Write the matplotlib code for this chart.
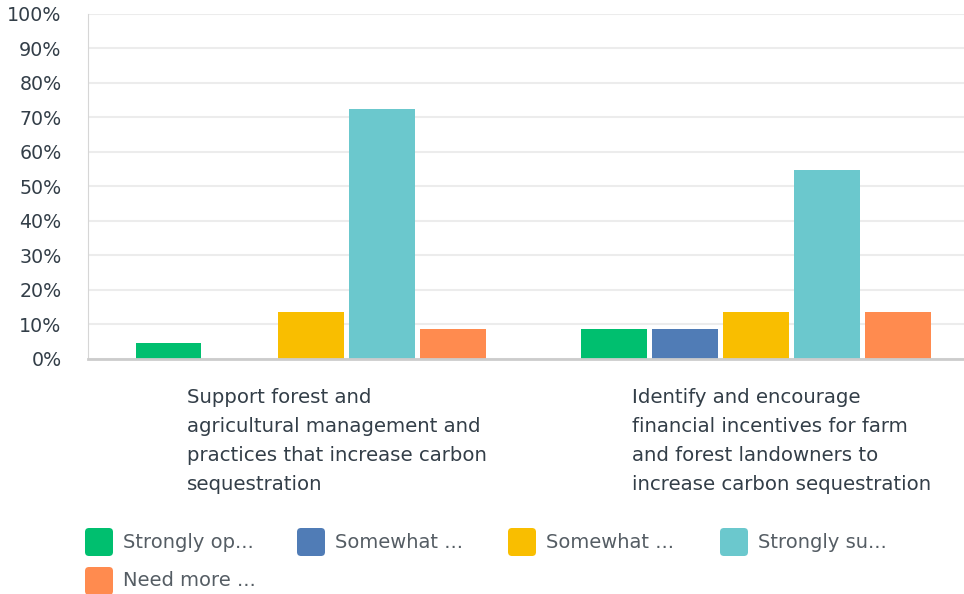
import numpy as np
import matplotlib
matplotlib.use("Agg")
from matplotlib import pyplot as plt
from matplotlib.patches import FancyBboxPatch
from matplotlib.transforms import IdentityTransform

categories = [
    "Support forest and\nagricultural management and\npractices that increase carbon\nsequestration",
    "Identify and encourage\nfinancial incentives for farm\nand forest landowners to\nincrease carbon sequestration",
]
series = ["Strongly op...", "Somewhat ...", "Somewhat ...", "Strongly su...", "Need more ..."]
colors = ["#00bf6f", "#507cb6", "#f9be00", "#6bc8cd", "#ff8b4f"]
strongly_oppose = [4.55, 8.7]
somewhat_oppose = [0.0, 8.7]
somewhat_support = [13.64, 13.64]
strongly_support = [72.5, 54.8]
need_more_info = [8.7, 13.64]
values = [strongly_oppose, somewhat_oppose, somewhat_support, strongly_support, need_more_info]
yticks = list(range(0, 101, 10))

text_color = "#333e48"

fig = plt.figure(figsize=(9.64, 5.94), dpi=100)
ax = fig.add_axes([88 / 964, 1 - 359 / 594, (964 - 88) / 964, 345.5 / 594])

x = np.arange(len(categories))
width = 0.148
step = 0.1596
for i, vals in enumerate(values):
    ax.bar(x + (i - 2) * step, vals, width=width, color=colors[i], zorder=3)

ax.set_xlim(-0.5, 1.467)
ax.set_ylim(0, 100)
ax.set_yticks(yticks)
ax.set_yticklabels([f"{t}%" for t in yticks], fontsize=13.7, color=text_color)
ax.set_xticks([])
ax.tick_params(axis="y", length=0, pad=19)
ax.yaxis.grid(True, color="#ececec", lw=1.5, zorder=0)
ax.set_axisbelow(True)
for s in ["top", "right"]:
    ax.spines[s].set_visible(False)
ax.spines["left"].set_color("#d6d6d6")
ax.spines["bottom"].set_color("#cccccc")
ax.spines["bottom"].set_linewidth(2)
ax.spines["bottom"].set_zorder(4)

for xi, label in zip(x, categories):
    ax.text(xi - 0.2787, -0.085, label, transform=ax.get_xaxis_transform(),
            ha="left", va="top", fontsize=14.2, color=text_color, linespacing=1.66)

# legend drawn by hand in pixel coordinates
H = 594
col_x = [85, 297, 508, 720]
rows_y = [542, 581]
for i, (name, c) in enumerate(zip(series, colors)):
    cx = col_x[i % 4]
    cy = rows_y[i // 4]
    box = FancyBboxPatch((cx, H - cy - 14), 28, 28, boxstyle="round,pad=0,rounding_size=4",
                         transform=IdentityTransform(), facecolor=c, edgecolor="none")
    fig.patches.append(box)
    fig.text((cx + 38) / 964, (H - cy) / H, name, ha="left", va="center",
             fontsize=14, color="#555d64")

fig.savefig("out.png", dpi=100)
